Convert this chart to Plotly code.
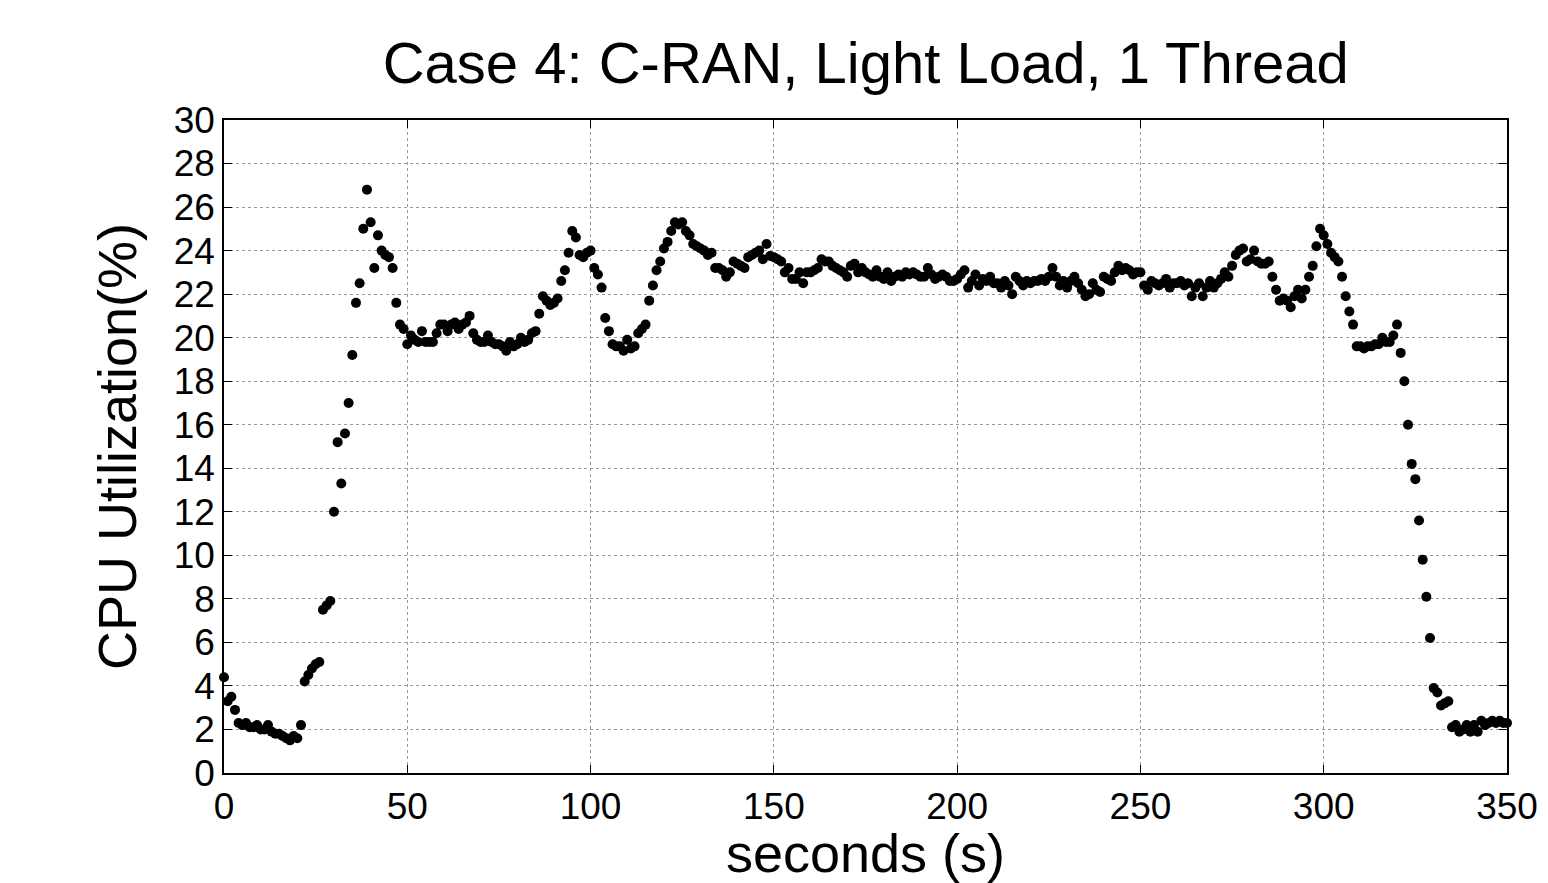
import plotly.graph_objects as go

# CPU utilisation sampled once per second, 0..350 s
cpu_0_49 = [4.4, 3.3, 3.5, 2.9, 2.3, 2.2, 2.3, 2.1, 2.1, 2.2,
            2.0, 2.0, 2.2, 1.9, 1.8, 1.8, 1.7, 1.6, 1.5, 1.7,
            1.6, 2.2, 4.2, 4.5, 4.8, 5.0, 5.1, 7.5, 7.7, 7.9,
            12.0, 15.2, 13.3, 15.6, 17.0, 19.2, 21.6, 22.5, 25.0, 26.8,
            25.3, 23.2, 24.7, 24.0, 23.8, 23.7, 23.2, 21.6, 20.6, 20.4]
cpu_50_99 = [19.7, 20.1, 19.9, 19.8, 20.3, 19.8, 19.8, 19.8, 20.2, 20.6,
             20.6, 20.3, 20.6, 20.7, 20.4, 20.6, 20.7, 21.0, 20.2, 19.9,
             19.8, 19.8, 20.1, 19.8, 19.7, 19.7, 19.6, 19.4, 19.8, 19.6,
             19.7, 20.0, 19.8, 19.9, 20.2, 20.3, 21.1, 21.9, 21.7, 21.5,
             21.6, 21.8, 22.6, 23.1, 23.9, 24.9, 24.6, 23.8, 23.7, 23.9]
cpu_100_149 = [24.0, 23.2, 22.9, 22.3, 20.9, 20.3, 19.7, 19.6, 19.6, 19.4,
               19.9, 19.5, 19.6, 20.2, 20.4, 20.6, 21.7, 22.4, 23.1, 23.5,
               24.1, 24.4, 24.9, 25.3, 25.2, 25.3, 24.9, 24.7, 24.3, 24.2,
               24.1, 24.0, 23.8, 23.9, 23.2, 23.2, 23.1, 22.8, 23.0, 23.5,
               23.4, 23.3, 23.2, 23.7, 23.8, 23.9, 24.0, 23.6, 24.3, 23.75]
cpu_150_199 = [23.7, 23.6, 23.5, 23.0, 23.2, 22.7, 22.7, 23.0, 22.5, 23.0,
               23.0, 23.1, 23.2, 23.6, 23.5, 23.5, 23.3, 23.2, 23.1, 23.0,
               22.8, 23.3, 23.4, 23.0, 23.2, 23.0, 22.9, 22.8, 23.1, 22.8,
               22.7, 23.0, 22.6, 22.8, 22.9, 22.8, 23.0, 22.9, 23.0, 22.9,
               22.8, 22.8, 23.2, 22.9, 22.7, 22.8, 22.9, 22.8, 22.6, 22.6]
cpu_200_249 = [22.7, 22.9, 23.1, 22.3, 22.6, 22.9, 22.4, 22.7, 22.6, 22.8,
               22.5, 22.5, 22.3, 22.6, 22.4, 22.0, 22.8, 22.6, 22.4, 22.6,
               22.5, 22.6, 22.6, 22.7, 22.6, 22.8, 23.2, 22.8, 22.4, 22.6,
               22.3, 22.6, 22.8, 22.5, 22.2, 21.9, 22.0, 22.5, 22.2, 22.1,
               22.8, 22.7, 22.6, 23.0, 23.3, 23.1, 23.2, 23.1, 22.9, 23.0]
cpu_250_299 = [23.0, 22.4, 22.2, 22.6, 22.5, 22.4, 22.5, 22.7, 22.3, 22.5,
               22.5, 22.6, 22.4, 22.5, 21.9, 22.3, 22.5, 21.9, 22.3, 22.6,
               22.3, 22.5, 22.7, 23.0, 22.8, 23.3, 23.8, 24.0, 24.1, 23.5,
               23.6, 24.0, 23.5, 23.4, 23.4, 23.5, 22.8, 22.2, 21.7, 21.8,
               21.7, 21.4, 21.9, 22.2, 21.8, 22.2, 22.8, 23.3, 24.2, 25.0]
cpu_300_350 = [24.7, 24.3, 23.9, 23.7, 23.5, 22.8, 21.9, 21.2, 20.6, 19.6,
               19.6, 19.5, 19.6, 19.6, 19.7, 19.7, 20.0, 19.8, 19.8, 20.1,
               20.6, 19.3, 18.0, 16.0, 14.2, 13.5, 11.6, 9.8, 8.1, 6.2,
               3.9, 3.7, 3.1, 3.2, 3.3, 2.1, 2.2, 1.9, 2.0, 2.2,
               1.9, 2.2, 1.9, 2.4, 2.2, 2.3, 2.4, 2.3, 2.4, 2.3, 2.3]

cpu = cpu_0_49 + cpu_50_99 + cpu_100_149 + cpu_150_199 + cpu_200_249 + cpu_250_299 + cpu_300_350
seconds = list(range(len(cpu)))

x_ticks = list(range(0, 351, 50))
y_ticks = list(range(0, 31, 2))

font_family = "Liberation Sans, Arial, Helvetica, sans-serif"

fig = go.Figure()
fig.add_trace(go.Scatter(
    x=seconds, y=cpu,
    mode="markers",
    marker=dict(symbol="circle", size=10, color="black"),
    cliponaxis=False,
    showlegend=False,
))

axis_style = dict(
    showline=True, linecolor="black", linewidth=1.5,
    mirror="ticks", ticks="inside", ticklen=8, tickcolor="black",
    showgrid=True, gridcolor="#9a9a9a", gridwidth=1, griddash="dot",
    zeroline=False, automargin=False,
    tickfont=dict(size=37, color="black", family=font_family),
)

fig.update_xaxes(
    range=[0, 350], tickvals=x_ticks,
    title=dict(text="seconds (s)", font=dict(size=54, color="black", family=font_family), standoff=6),
    **axis_style,
)
fig.update_yaxes(
    range=[0, 30], tickvals=y_ticks,
    title=dict(text="CPU Utilization(%)", font=dict(size=54, color="black", family=font_family), standoff=20),
    **axis_style,
)

# the html page adds an 8 px body margin, so the figure is drawn 8 px in from the corner
fig.update_layout(
    width=1540, height=875,
    plot_bgcolor="white", paper_bgcolor="white",
    margin=dict(l=216, r=41, t=112, b=110),
    title=dict(
        text="Case 4: C-RAN, Light Load, 1 Thread",
        x=0.557, xanchor="center", y=0.937, yanchor="middle",
        font=dict(size=58, color="black", family=font_family),
        automargin=False,
    ),
    font=dict(family=font_family, color="black"),
)

fig.write_html("out.html")
